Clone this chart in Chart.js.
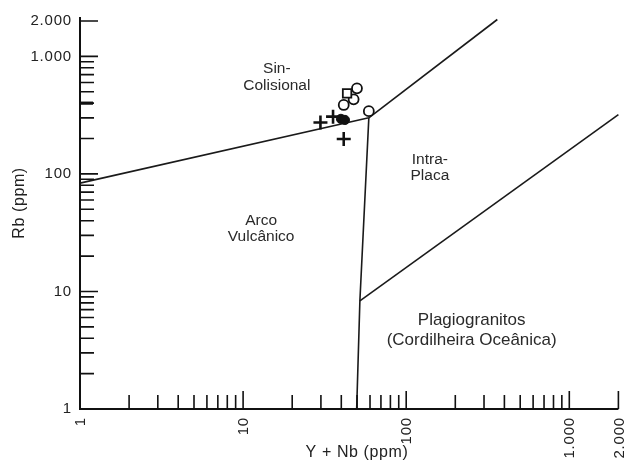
<!DOCTYPE html>
<html>
<head>
<meta charset="utf-8">
<script src="https://cdn.jsdelivr.net/npm/chart.js@4"></script>
<style>
  html, body { margin: 0; background: #fff; }
  #wrap { width: 628px; height: 464px; }
</style>
</head>
<body>
<div id="wrap"><canvas id="c" width="628" height="464"></canvas></div>
<script>
// axis ticks
const xMajor = [1, 10, 100, 1000, 2000];
const xMajorLabels = ["1", "10", "100", "1.000", "2.000"];
const yMajor = [1, 10, 100, 1000, 2000];
const yMajorLabels = ["1", "10", "100", "1.000", "2.000"];
const minorSteps = [2, 3, 4, 5, 6, 7, 8, 9];
const minorDecades = [1, 10, 100];
const yHeavyTicks = [400];

// field boundaries (Y+Nb, Rb)
const vagSyn = [[1, 83.5], [59, 300]];
const synWpg = [[59, 300], [362, 2060]];
const vagWpg = [[59, 300], [52, 8.3], [49.7, 1]];
const orgWpg = [[52, 8.3], [2000, 320]];

// samples
const openCircles = [[49.9, 535], [47.6, 431], [41.4, 386], [59, 342]];
const openSquares = [[43.4, 485]];
const filledCircles = [[39.8, 294], [42.1, 288]];
const crosses = [[29.8, 274], [35.6, 307], [41.4, 198]];

// field names
const fieldNames = [
  { lines: ["Sin-", "Colisional"], x: 16.1, y: 659, size: 15.5, gap: 17 },
  { lines: ["Intra-", "Placa"], x: 139.7, y: 112, size: 15.5, gap: 16 },
  { lines: ["Arco", "Vulcânico"], x: 12.9, y: 33.9, size: 15.5, gap: 16 },
  { lines: ["Plagiogranitos", "(Cordilheira Oceânica)"], x: 252, y: 4.65, size: 17, gap: 20 },
];

const toPts = arr => arr.map(([x, y]) => ({ x, y }));

function lineSet(arr) {
  return {
    type: "line",
    data: toPts(arr),
    borderColor: "#1a1a1a",
    borderWidth: 1.6,
    pointRadius: 0,
    tension: 0,
    fill: false,
    clip: false,
    order: 2,
  };
}

const axesPlugin = {
  id: "axesPlugin",
  afterDraw(chart) {
    const { ctx, chartArea: a, scales: { x, y } } = chart;
    ctx.save();
    ctx.strokeStyle = "#111";
    ctx.lineCap = "butt";

    // axis lines
    ctx.lineWidth = 2;
    ctx.beginPath();
    ctx.moveTo(a.left, y.getPixelForValue(2000) - 4);
    ctx.lineTo(a.left, a.bottom);
    ctx.lineTo(x.getPixelForValue(2000), a.bottom);
    ctx.stroke();

    const minors = [];
    for (const d of minorDecades) for (const s of minorSteps) minors.push(d * s);

    ctx.lineWidth = 1.6;
    ctx.beginPath();
    for (const v of minors) {
      const px = x.getPixelForValue(v);
      ctx.moveTo(px, a.bottom);
      ctx.lineTo(px, a.bottom - 14);
      const py = y.getPixelForValue(v);
      ctx.moveTo(a.left, py);
      ctx.lineTo(a.left + 14, py);
    }
    for (const v of xMajor.slice(1)) {
      const px = x.getPixelForValue(v);
      ctx.moveTo(px, a.bottom);
      ctx.lineTo(px, a.bottom - 18);
    }
    for (const v of yMajor.slice(1)) {
      const py = y.getPixelForValue(v);
      ctx.moveTo(a.left, py);
      ctx.lineTo(a.left + 18, py);
    }
    ctx.stroke();

    ctx.lineWidth = 3.2;
    ctx.beginPath();
    for (const v of yHeavyTicks) {
      const py = y.getPixelForValue(v);
      ctx.moveTo(a.left, py);
      ctx.lineTo(a.left + 13, py);
    }
    ctx.stroke();

    // tick labels
    ctx.fillStyle = "#222";
    ctx.font = '15px "Liberation Sans", Arial, sans-serif';
    ctx.letterSpacing = "0.8px";
    ctx.textAlign = "right";
    ctx.textBaseline = "middle";
    yMajor.forEach((v, i) => {
      ctx.fillText(yMajorLabels[i], a.left - 8, y.getPixelForValue(v));
    });
    xMajor.forEach((v, i) => {
      ctx.save();
      ctx.translate(x.getPixelForValue(v) + 1, a.bottom + 8);
      ctx.rotate(-Math.PI / 2);
      ctx.fillText(xMajorLabels[i], 0, 0);
      ctx.restore();
    });

    // axis titles
    ctx.font = '16px "Liberation Sans", Arial, sans-serif';
    ctx.letterSpacing = "0.6px";
    ctx.textAlign = "center";
    ctx.fillText("Y + Nb (ppm)", 357, 453);
    ctx.save();
    ctx.translate(20, 203);
    ctx.rotate(-Math.PI / 2);
    ctx.fillText("Rb (ppm)", 0, 0);
    ctx.restore();

    // field names
    ctx.fillStyle = "#2a2a2a";
    ctx.letterSpacing = "0px";
    for (const f of fieldNames) {
      ctx.font = `${f.size}px "Liberation Sans", Arial, sans-serif`;
      const cx = x.getPixelForValue(f.x);
      const cy = y.getPixelForValue(f.y);
      f.lines.forEach((t, i) => {
        ctx.fillText(t, cx, cy + (i - (f.lines.length - 1) / 2) * f.gap);
      });
    }
    ctx.restore();
  },
};

new Chart(document.getElementById("c"), {
  type: "scatter",
  data: {
    datasets: [
      lineSet(vagSyn),
      lineSet(synWpg),
      lineSet(vagWpg),
      lineSet(orgWpg),
      {
        data: toPts(openCircles),
        pointStyle: "circle",
        pointRadius: 5,
        pointBackgroundColor: "#fff",
        pointBorderColor: "#111",
        pointBorderWidth: 1.8,
        order: 1,
      },
      {
        data: toPts(openSquares),
        pointStyle: "rect",
        pointRadius: 6,
        pointBackgroundColor: "#fff",
        pointBorderColor: "#111",
        pointBorderWidth: 1.8,
        order: 0,
      },
      {
        data: toPts(filledCircles),
        pointStyle: "circle",
        pointRadius: 4.6,
        pointBackgroundColor: "#111",
        pointBorderColor: "#111",
        pointBorderWidth: 1,
        order: 1,
      },
      {
        data: toPts(crosses),
        pointStyle: "cross",
        pointRadius: 7,
        pointBorderColor: "#111",
        pointBorderWidth: 2.6,
        order: 0,
      },
    ],
  },
  options: {
    responsive: false,
    animation: false,
    layout: { padding: { left: 80, right: 6, top: 21, bottom: 55 } },
    plugins: { legend: { display: false }, tooltip: { enabled: false } },
    scales: {
      x: { type: "logarithmic", min: 1, max: 2000, display: false },
      y: { type: "logarithmic", min: 1, max: 2000, display: false },
    },
  },
  plugins: [axesPlugin],
});
</script>
</body>
</html>
